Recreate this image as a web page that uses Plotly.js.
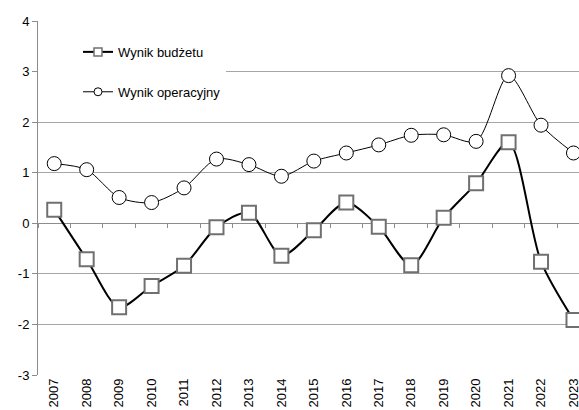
<!DOCTYPE html>
<html>
<head>
<meta charset="utf-8">
<script src="https://cdn.plot.ly/plotly-3.0.1.min.js"></script>
<style>
html,body{margin:0;padding:0;background:#fff;overflow:hidden;}
#chart{width:579px;height:410px;}
</style>
</head>
<body>
<div id="chart"></div>
<script>
const years = ["2007","2008","2009","2010","2011","2012","2013","2014","2015","2016","2017","2018","2019","2020","2021","2022","2023"];
const wynikBudzetu = [0.27,-0.71,-1.66,-1.24,-0.84,-0.08,0.21,-0.64,-0.14,0.41,-0.07,-0.83,0.11,0.79,1.60,-0.76,-1.91];
const wynikOperacyjny = [1.18,1.06,0.51,0.41,0.70,1.27,1.16,0.93,1.23,1.39,1.55,1.74,1.75,1.62,2.92,1.94,1.39];
const yTicks = [-3,-2,-1,0,1,2,3,4];
const nameB = "Wynik budżetu";
const nameO = "Wynik operacyjny";

const font = "Liberation Sans, Arial, sans-serif";
const xRange = [-0.5, 16.17];

const traces = [
  {
    x: years, y: wynikOperacyjny, type: "scatter", mode: "lines+markers",
    name: nameO, showlegend: false, hoverinfo: "skip",
    line: {color: "#000", width: 1, shape: "spline", smoothing: 0.8},
    marker: {symbol: "circle", size: 14, color: "#fff", line: {color: "#000", width: 1}}
  },
  {
    x: years, y: wynikBudzetu, type: "scatter", mode: "lines+markers",
    name: nameB, showlegend: false, hoverinfo: "skip",
    line: {color: "#000", width: 2, shape: "spline", smoothing: 0.8},
    marker: {symbol: "square", size: 14, color: "#fff", line: {color: "#707070", width: 2}}
  },
  {
    x: [null], y: [null], type: "scatter", mode: "lines+markers",
    name: nameB, legendgroup: "b", showlegend: true,
    line: {color: "#000", width: 2},
    marker: {symbol: "square", size: 8, color: "#fff", line: {color: "#707070", width: 1.5}}
  },
  {
    x: [null], y: [null], type: "scatter", mode: "lines+markers",
    name: nameO, legendgroup: "o", showlegend: true,
    line: {color: "#000", width: 1},
    marker: {symbol: "circle", size: 8, color: "#fff", line: {color: "#000", width: 1}}
  },
  {
    x: years, y: years.map(() => null), xaxis: "x2", type: "scatter", mode: "lines",
    showlegend: false, hoverinfo: "skip"
  }
];

const layout = {
  width: 579, height: 410,
  margin: {l: 38, r: 0, t: 21, b: 35, pad: 0},
  paper_bgcolor: "#fff", plot_bgcolor: "#fff",
  font: {family: font, size: 13, color: "#000"},
  showlegend: true,
  legend: {
    x: 0, y: 0.955, xanchor: "left", yanchor: "top",
    bgcolor: "#fff", borderwidth: 0,
    font: {family: font, size: 13, color: "#000"},
    traceorder: "grouped", tracegroupgap: 20, indentation: 40
  },
  xaxis: {
    type: "category", range: xRange, categoryorder: "array", categoryarray: years,
    tickangle: -90, ticks: "",
    showgrid: false, showline: false, zeroline: false,
    tickfont: {family: font, size: 13, color: "#000"}
  },
  xaxis2: {
    type: "category", overlaying: "x", anchor: "free", position: 152/354,
    range: xRange, categoryorder: "array", categoryarray: years,
    tickson: "boundaries", ticks: "outside", ticklen: 4, tickcolor: "#8c8c8c", tickwidth: 1,
    showticklabels: false, showgrid: false, showline: false, zeroline: false
  },
  yaxis: {
    range: [-3, 4], tickvals: yTicks, ticktext: yTicks.map(String),
    showgrid: true, gridcolor: "#a6a6a6", gridwidth: 1,
    zeroline: true, zerolinecolor: "#8c8c8c", zerolinewidth: 1,
    showline: true, linecolor: "#8c8c8c", linewidth: 1,
    ticks: "outside", ticklen: 5, tickcolor: "#8c8c8c",
    tickfont: {family: font, size: 13, color: "#000"}
  }
};

Plotly.newPlot("chart", traces, layout, {displayModeBar: false, staticPlot: true});
</script>
</body>
</html>
